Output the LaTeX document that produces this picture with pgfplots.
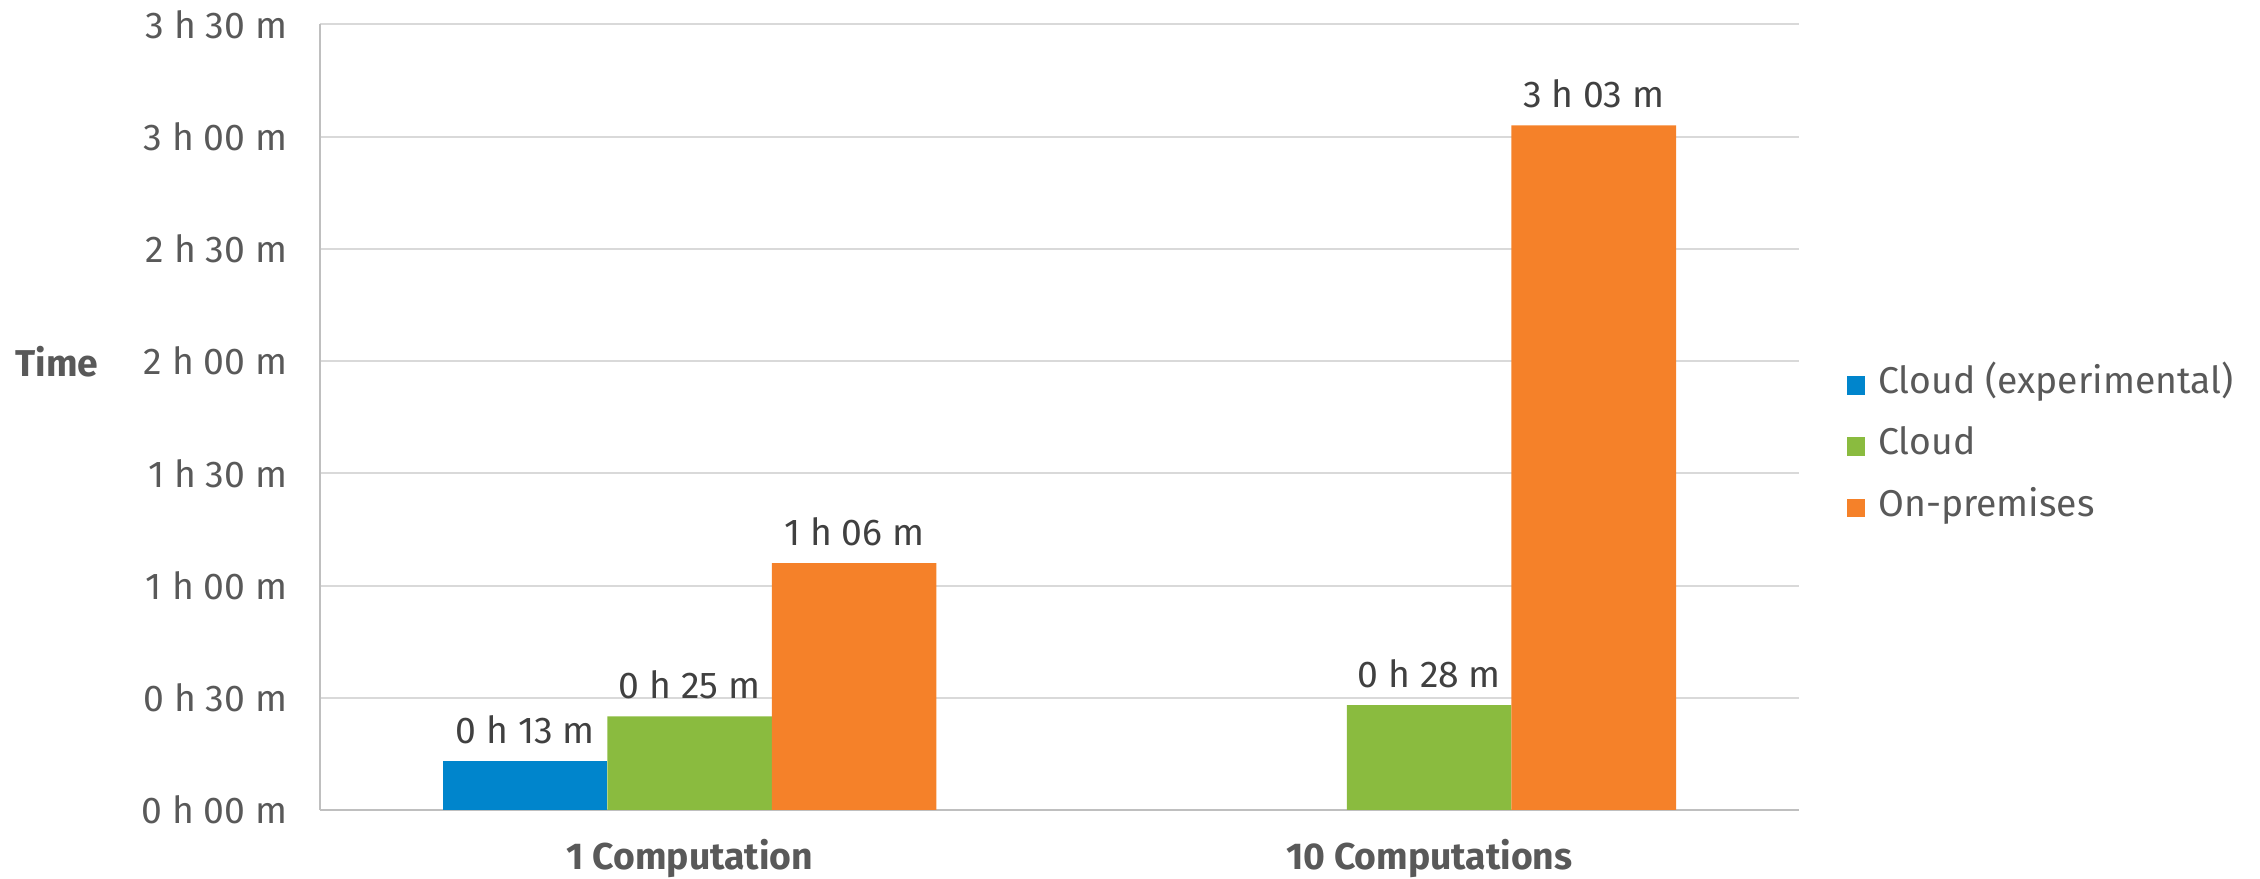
\documentclass[border=0pt]{standalone}
\usepackage{pgfplots}
\pgfplotsset{compat=1.18}
\usepackage{fontspec}
\setmainfont{Fira Sans}
\definecolor{cexp}{HTML}{0085CC}
\definecolor{ccloud}{HTML}{8ABB3F}
\definecolor{cprem}{HTML}{F58129}
\definecolor{tickgray}{HTML}{595959}
\definecolor{labgray}{HTML}{404040}
\definecolor{gridgray}{HTML}{D9D9D9}
\definecolor{axisgray}{HTML}{BFBFBF}
\newcommand{\chartfont}{\fontsize{11.2}{13.4}\selectfont}
\begin{document}
\begin{tikzpicture}
\path[use as bounding box] (-96pt,-20.7pt) rectangle (582pt,243pt);
\begin{axis}[
  at={(0,0)}, anchor=south west,
  scale only axis, width=443.7pt, height=235.65pt,
  ybar=0pt, bar width=49.35pt,
  xmin=-0.5, xmax=1.5, ymin=0, ymax=210,
  xtick={0,1}, xticklabels={1 Computation, 10 Computations},
  ytick={0,30,...,210},
  yticklabels={0 h 00 m,0 h 30 m,1 h 00 m,1 h 30 m,2 h 00 m,2 h 30 m,3 h 00 m,3 h 30 m},
  axis x line=bottom, axis y line=left,
  axis line style={axisgray, line width=0.6pt, -},
  major tick length=0pt,
  ymajorgrids, grid style={gridgray, line width=0.6pt},
  yticklabel style={font=\chartfont, text=tickgray, inner sep=0pt, anchor=east, xshift=-9.6pt},
  xticklabel style={font=\chartfont\bfseries, text=tickgray, inner sep=0pt, anchor=north, yshift=-8.5pt},
  nodes near coords, point meta=explicit symbolic,
  nodes near coords style={font=\chartfont, text=labgray, inner sep=0pt, anchor=south, yshift=5pt},
  legend image code/.code={\fill[#1] (0pt,-2.8pt) rectangle (5.6pt,2.8pt);},
  legend style={draw=none, fill=none, inner sep=0pt, at={(rel axis cs:1.0318,0.4626)}, anchor=west,
    font=\chartfont, text=tickgray, row sep=9.4pt, column sep=3.9pt,
    nodes={inner sep=0pt, text height=7pt, text depth=2pt}},
  legend cell align=left,
  clip=false,
]
\addplot[draw=none, fill=cexp] coordinates {(0,13) [0 h 13 m]};
\addplot[draw=none, fill=ccloud] coordinates {(0,25) [0 h 25 m] (1,28) [0 h 28 m]};
\addplot[draw=none, fill=cprem] coordinates {(0,66) [1 h 06 m] (1,183) [3 h 03 m]};
\legend{Cloud (experimental), Cloud, On-premises}
\node[anchor=west, inner sep=0pt, font=\chartfont\bfseries, text=tickgray] at (rel axis cs:0,0.5703) [xshift=-91.5pt] {Time};
\end{axis}
\end{tikzpicture}
\end{document}
